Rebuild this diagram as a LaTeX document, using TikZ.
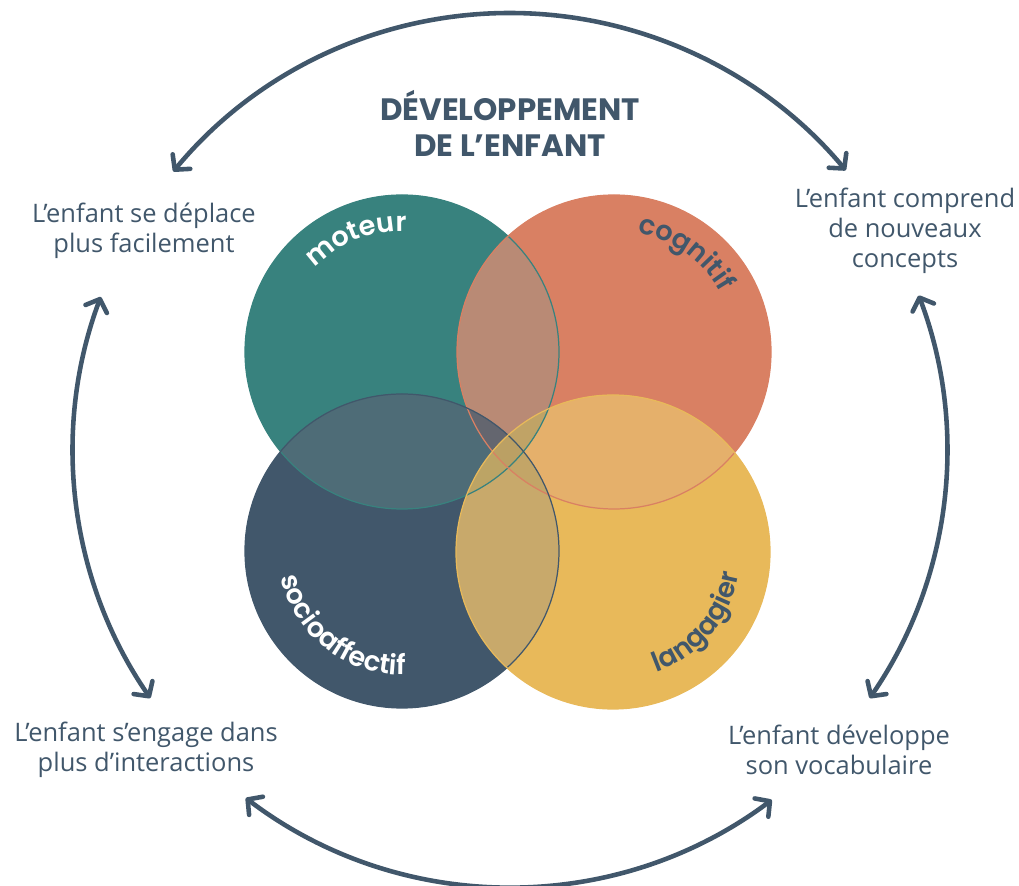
\documentclass[tikz,border=0pt]{standalone}
\usepackage{fontspec}
\setmainfont{Open Sans}
\newfontfamily\titlefont{Poppins}
\newfontfamily\cerclefont{Poppins SemiBold}
\usetikzlibrary{arrows.meta,decorations.text}

\definecolor{ardoise}{HTML}{41576B}
\definecolor{sarcelle}{HTML}{38827E}
\definecolor{corail}{HTML}{D98063}
\definecolor{moutarde}{HTML}{E8B95A}
% couleurs des zones communes
\definecolor{MC}{HTML}{B98A75}
\definecolor{MS}{HTML}{4E6C77}
\definecolor{CL}{HTML}{E5B06B}
\definecolor{SL}{HTML}{C8A96B}
\definecolor{ML}{HTML}{BDA264}
\definecolor{CS}{HTML}{BDA264}
\definecolor{MCS}{HTML}{64666F}
\definecolor{MCL}{HTML}{C0A366}
\definecolor{MSL}{HTML}{BCA465}
\definecolor{CSL}{HTML}{C3A567}
\definecolor{MCSL}{HTML}{BBA064}

\newcommand{\etiq}{\cerclefont\fontsize{15.5}{18}\selectfont}

\begin{document}
\begin{tikzpicture}[x=0.02cm,y=0.02cm,
	texte/.style={text=ardoise,font=\fontsize{14.5}{17}\selectfont,align=center},
	titre/.style={text=ardoise,font=\titlefont\bfseries\fontsize{17.6}{20.5}\selectfont,align=center},
	fleche/.style={draw=ardoise,line width=2.6pt,line cap=round,
		{Straight Barb[length=6pt,width=13pt,round]}-{Straight Barb[length=6pt,width=13pt,round]}},
	contour/.style={line width=0.7pt}]
	
	\useasboundingbox (0,0) rectangle (1019,886);
	
	\coordinate (mot) at (402,534);
	\coordinate (cog) at (614,534);
	\coordinate (soc) at (402,335);
	\coordinate (lan) at (613,334);
	\coordinate (ring) at (510,436);
	
	\fill[sarcelle] (mot) circle[radius=157];
	\fill[corail] (cog) circle[radius=157];
	\fill[ardoise] (soc) circle[radius=157];
	\fill[moutarde] (lan) circle[radius=157];
	
	% zones communes a deux
	\foreach \a/\b/\c in {mot/cog/MC,mot/soc/MS,cog/lan/CL,soc/lan/SL,mot/lan/ML,cog/soc/CS}{
		\begin{scope}
			\clip (\a) circle[radius=157];
			\fill[\c] (\b) circle[radius=157];
		\end{scope}
	}
	% zones communes a trois
	\foreach \a/\b/\d/\c in {mot/cog/soc/MCS,mot/cog/lan/MCL,mot/soc/lan/MSL,cog/soc/lan/CSL}{
		\begin{scope}
			\clip (\a) circle[radius=157];
			\clip (\b) circle[radius=157];
			\fill[\c] (\d) circle[radius=157];
		\end{scope}
	}
	\begin{scope}
		\clip (mot) circle[radius=157];
		\clip (cog) circle[radius=157];
		\clip (soc) circle[radius=157];
		\fill[MCSL] (lan) circle[radius=157];
	\end{scope}
	
	\draw[contour,sarcelle] (mot) circle[radius=157];
	\draw[contour,corail] (cog) circle[radius=157];
	\draw[contour,ardoise] (soc) circle[radius=157];
	\draw[contour,moutarde] (lan) circle[radius=157];
	
	% etiquettes des cercles
	\path[decorate,decoration={text along path,text align=center,text={|\etiq\color{white}|moteur}}]
		(mot) ++(156:121) arc[start angle=156,end angle=68,radius=121];
	\path[decorate,decoration={text along path,text align=center,text={|\etiq\color{ardoise}|cognitif}}]
		(cog) ++(98:122) arc[start angle=98,end angle=10,radius=122];
	\path[decorate,decoration={text along path,text align=center,text={|\etiq\color{white}|socioaffectif}}]
		(soc) ++(180:124) arc[start angle=180,end angle=284,radius=124];
	\path[decorate,decoration={text along path,text align=center,text={|\etiq\color{ardoise}|langagier}}]
		(lan) ++(-90:128) arc[start angle=-90,end angle=10,radius=128];
	
	\node[titre] (titre) at (510,763) {DÉVELOPPEMENT\\DE L’ENFANT};
	
	\node[texte] (deplace) at (144,655) {L’enfant se déplace\\plus facilement};
	\node[texte] (comprend) at (905,655) {L’enfant comprend\\de nouveaux\\concepts};
	\node[texte] (engage) at (146,136) {L’enfant s’engage dans\\plus d’interactions};
	\node[texte] (vocab) at (839,136) {L’enfant développe\\son vocabulaire};
	
	% le cycle
	\path (ring) ++(140.4:437) coordinate (h1);
	\path (ring) ++(159.5:437) coordinate (g1);
	\path (ring) ++(-34.6:437) coordinate (d1);
	\path (ring) ++(232.8:437) coordinate (b1);
	\draw[fleche] (h1) arc[start angle=140.4,end angle=39.8,radius=437];
	\draw[fleche] (g1) arc[start angle=159.5,end angle=214.6,radius=437];
	\draw[fleche] (d1) arc[start angle=-34.6,end angle=20.7,radius=437];
	\draw[fleche] (b1) arc[start angle=232.8,end angle=306.8,radius=437];
	
\end{tikzpicture}
\end{document}
